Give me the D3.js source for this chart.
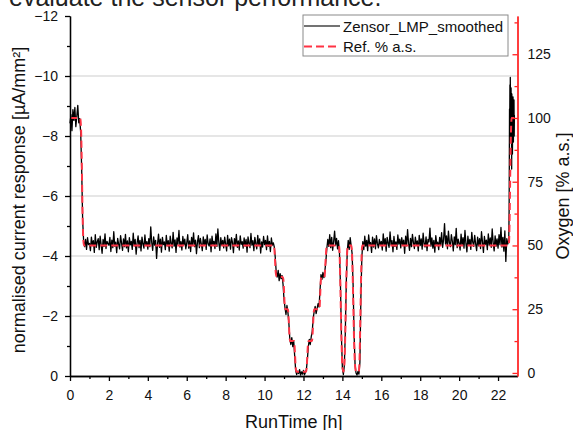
<!DOCTYPE html>
<html>
<head>
<title>Zensor LMP smoothed vs reference oxygen</title>
<script src="https://d3js.org/d3.v7.min.js"></script>
<style>
body { margin: 0; background: #fff; }
text { font-family: "Liberation Sans", Arial, sans-serif; }
</style>
</head>
<body>
<div id="chart"></div>
<script>
// sensor current, one sample every 0.05 h from 0 h to 22.55 h
var stepHours = 0.05;
var currentValues = [
  -8.42,-8.71,-8.18,-8.88,-8.52,-8.95,-8.31,-8.66,-9.02,-8.44,-8.58,-8.10,-6.90,-5.20,-4.50,-4.31,-4.55,-4.22,-4.61,-4.38,
  -4.42,-4.18,-4.63,-4.35,-4.51,-4.12,-4.71,-4.29,-4.47,-4.58,-4.21,-4.66,-4.38,-4.09,-4.55,-4.32,-4.74,-4.25,-4.49,-4.41,
  -4.36,-4.62,-4.15,-4.53,-4.28,-4.81,-4.33,-4.46,-4.11,-4.59,-4.39,-4.24,-4.68,-4.43,-4.19,-4.57,-4.31,-4.72,-4.27,-4.50,
  -4.14,-4.61,-4.37,-4.49,-4.22,-4.76,-4.34,-4.55,-4.06,-4.44,-4.67,-4.28,-4.52,-4.17,-4.63,-4.40,-4.26,-4.70,-4.35,-4.48,
  -4.23,-4.58,-4.31,-4.97,-4.45,-4.19,-4.64,-4.36,-4.52,-3.92,-4.41,-4.73,-4.29,-4.56,-4.13,-4.62,-4.38,-4.47,-4.21,-4.69,
  -4.34,-4.51,-4.16,-4.66,-4.42,-4.27,-4.79,-4.33,-4.54,-4.12,-4.60,-4.39,-4.85,-4.30,-4.48,-4.20,-4.65,-4.37,-4.56,-4.24,
  -4.43,-4.71,-4.26,-4.50,-4.15,-4.62,-4.35,-4.77,-4.31,-4.53,-4.08,-4.46,-4.68,-4.28,-4.59,-4.40,-4.18,-4.64,-4.37,-4.55,
  -4.22,-4.70,-4.41,-4.33,-4.57,-4.14,-4.66,-4.38,-4.49,-4.25,-4.74,-4.32,-4.90,-4.44,-4.19,-4.61,-4.36,-4.52,-4.27,-4.63,
  -4.40,-4.17,-4.69,-4.34,-4.56,-4.23,-4.61,-4.45,-4.11,-4.58,-4.37,-4.72,-4.29,-4.50,-4.20,-4.67,-4.39,-4.48,-4.26,-4.60,
  -4.33,-4.55,-4.13,-4.64,-4.42,-4.28,-4.75,-4.36,-4.51,-4.18,-4.62,-4.41,-4.24,-4.69,-4.35,-4.57,-4.10,-4.47,-4.30,-4.65,
  -4.38,-4.52,-4.21,-4.67,-4.32,-4.49,-4.15,-4.60,-4.36,-4.44,-4.30,-3.95,-3.45,-3.30,-3.52,-3.18,-3.41,-3.25,-3.35,-3.05,
  -2.55,-2.28,-2.05,-2.35,-2.12,-1.75,-1.22,-1.05,-1.28,-0.98,-1.15,-0.65,-0.18,-0.05,-0.16,-0.08,-0.21,-0.03,-0.14,-0.06,
  -0.19,-0.04,-0.12,-0.22,-0.55,-0.98,-1.22,-1.05,-1.31,-1.48,-1.92,-2.15,-2.32,-2.08,-2.25,-2.41,-2.30,-2.85,-3.38,-3.22,
  -3.45,-3.28,-3.50,-3.82,-4.25,-4.55,-4.32,-4.71,-4.28,-4.62,-4.19,-4.48,-4.83,-4.36,-4.59,-4.24,-4.51,-4.10,-3.05,-1.35,
  -0.25,-0.05,-0.35,-1.45,-3.10,-4.15,-4.52,-4.22,-4.61,-4.35,-4.08,-3.05,-1.40,-0.40,-0.10,-0.03,-0.15,-0.06,-0.45,-2.60,
  -3.95,-4.48,-4.21,-4.66,-4.33,-4.52,-4.18,-4.70,-4.39,-4.45,-4.12,-4.63,-4.30,-4.57,-4.24,-4.68,-4.41,-4.27,-4.55,-4.36,
  -4.49,-4.20,-4.74,-4.35,-4.58,-4.16,-4.62,-4.43,-4.29,-4.80,-4.38,-4.51,-4.14,-4.65,-4.32,-4.47,-4.22,-4.70,-4.40,-4.56,
  -4.27,-4.61,-4.37,-4.53,-4.09,-4.66,-4.34,-4.88,-4.42,-4.19,-4.59,-4.31,-4.72,-4.45,-4.25,-4.63,-4.38,-4.50,-4.17,-4.69,
  -4.35,-4.57,-4.23,-4.76,-4.41,-4.30,-4.64,-4.18,-4.55,-4.47,-4.93,-4.33,-4.60,-4.26,-4.52,-4.13,-4.68,-4.39,-4.46,-4.21,
  -4.62,-4.36,-4.78,-4.29,-4.54,-5.08,-4.40,-4.67,-4.24,-4.83,-4.45,-4.31,-4.71,-4.50,-4.17,-4.64,-4.38,-4.92,-4.28,-4.56,
  -4.43,-4.20,-4.73,-4.35,-4.61,-4.26,-4.85,-4.41,-4.14,-4.66,-4.37,-4.55,-4.22,-4.79,-4.46,-4.32,-4.69,-4.40,-4.18,-4.63,
  -4.34,-4.58,-4.25,-4.81,-4.47,-4.12,-4.65,-4.39,-4.53,-4.21,-4.74,-4.36,-4.60,-4.29,-4.90,-4.44,-4.17,-4.67,-4.33,-4.57,
  -4.26,-4.71,-4.38,-4.95,-4.30,-4.62,-4.16,-4.84,-3.82,-4.58,-4.40,-4.52
];

// last burst back to 100 % (denser samples)
var burstTimes = [22.57,22.58,22.59,22.60,22.61,22.62,22.63,22.64,22.65,22.66,22.67,22.68,22.69,
  22.70,22.71,22.72,22.73,22.74,22.75,22.76,22.77,22.78,22.79,22.80,22.81,22.82,22.83,22.84];
var burstValues = [-5.6,-7.1,-8.9,-8.2,-9.7,-8.0,-9.95,-8.4,-9.3,-7.9,-9.6,-8.3,-9.1,
  -6.9,-9.4,-8.1,-9.0,-7.4,-8.8,-8.2,-9.3,-8.6,-7.8,-8.9,-8.3,-9.2,-8.0,-8.7];

// reference oxygen saturation [% a.s.]
var refTimes = [0,0.52,0.56,0.60,0.64,0.68,0.72,10.48,10.52,10.56,10.60,10.95,10.99,11.03,11.07,
  11.20,11.24,11.28,11.32,11.52,11.56,11.60,11.64,12.14,12.18,12.22,12.26,12.44,12.48,12.53,12.56,
  12.82,12.86,12.90,12.93,13.08,13.12,13.18,13.22,13.82,13.86,13.90,13.95,14.00,14.05,14.10,14.15,
  14.20,14.25,14.29,14.46,14.50,14.55,14.60,14.65,14.70,14.84,14.88,14.93,14.98,15.02,22.55,22.59,
  22.63,22.67,22.70,22.84];
var refOxygen = [100,100,97,85,65,53,50,50,47,41,38,37.5,34,27,25,
  25,21,14.5,12.5,12.5,8,2,0.5,0.5,4,10,12.5,12.5,17,24,25,
  25,31,37,37.5,37.5,42,49,50,50,46,33,14,3,0.5,3,16,
  36,48,50,50,46,31,13,3,0.5,0.5,5,24,44,50,50,58,
  80,96,100,100];

var xTicks = [0,2,4,6,8,10,12,14,16,18,20,22];
var xMinorTicks = [1,3,5,7,9,11,13,15,17,19,21];
var leftTicks = [0,-2,-4,-6,-8,-10,-12];
var leftMinorTicks = [-1,-3,-5,-7,-9,-11];
var gridValues = [-2,-4,-6,-8,-10];
var rightTicks = [0,25,50,75,100,125];
var rightMinorTicks = [12.5,37.5,62.5,87.5,112.5,137.5];

var W = 573, H = 430;
var plotL = 70, plotR = 517.5, plotT = 16, plotB = 376;
var redAxis = "#f22", redLine = "#ff3344";

var svg = d3.select("#chart").append("svg")
  .attr("width", W).attr("height", H);

var x = d3.scaleLinear().domain([0, 23]).range([plotL, plotR]);
var yLeft = d3.scaleLinear().domain([0, -12]).range([plotB, plotT]);
var yRight = d3.scaleLinear().domain([-1.2, 140]).range([plotB, plotT]);

// cut-off caption line above the figure
svg.append("text")
  .attr("x", 9).attr("y", 5.5)
  .attr("font-size", 25).attr("fill", "#222")
  .text("evaluate the sensor performance.");

// grid
svg.selectAll(".grid")
  .data(gridValues)
  .enter()
  .append("line")
  .attr("class", "grid")
  .attr("x1", plotL).attr("x2", plotR)
  .attr("y1", function(d) { return yLeft(d); })
  .attr("y2", function(d) { return yLeft(d); })
  .attr("stroke", "#dedede").attr("stroke-width", 1.5);

// data
var currentData = currentValues.map(function(v, i) { return [i * stepHours, v]; });
burstTimes.forEach(function(t, i) { currentData.push([t, burstValues[i]]); });

var currentLine = d3.line()
  .x(function(d) { return x(d[0]); })
  .y(function(d) { return yLeft(d[1]); });

svg.append("path")
  .datum(currentData)
  .attr("d", currentLine)
  .attr("fill", "none")
  .attr("stroke", "#000")
  .attr("stroke-width", 1.3)
  .attr("stroke-linejoin", "round");

var refLine = d3.line()
  .curve(d3.curveMonotoneX)
  .x(function(d, i) { return x(refTimes[i]); })
  .y(function(d) { return yRight(d); });

svg.append("path")
  .datum(refOxygen)
  .attr("d", refLine)
  .attr("fill", "none")
  .attr("stroke", redLine)
  .attr("stroke-width", 2)
  .attr("stroke-dasharray", "7,4");

// axes
function styleAxis(g, color) {
  g.selectAll("path, line").attr("stroke", color).attr("stroke-width", 1.3);
  g.selectAll("text").attr("fill", "#111").attr("font-size", 14)
    .attr("font-family", "'Liberation Sans', Arial, sans-serif");
}

var gLeft = svg.append("g").attr("transform", "translate(" + plotL + ",0)")
  .call(d3.axisLeft(yLeft).tickValues(leftTicks).tickSize(5).tickSizeOuter(0).tickPadding(7));
styleAxis(gLeft, "#000");
var gLeftMinor = svg.append("g").attr("transform", "translate(" + plotL + ",0)")
  .call(d3.axisLeft(yLeft).tickValues(leftMinorTicks).tickSize(3).tickSizeOuter(0).tickFormat(""));
styleAxis(gLeftMinor, "#000");

var gBottom = svg.append("g").attr("transform", "translate(0," + plotB + ")")
  .call(d3.axisBottom(x).tickValues(xTicks).tickSize(5).tickSizeOuter(0).tickPadding(9));
styleAxis(gBottom, "#000");
var gBottomMinor = svg.append("g").attr("transform", "translate(0," + plotB + ")")
  .call(d3.axisBottom(x).tickValues(xMinorTicks).tickSize(3).tickSizeOuter(0).tickFormat(""));
styleAxis(gBottomMinor, "#000");

var gRight = svg.append("g").attr("transform", "translate(" + plotR + ",0)")
  .call(d3.axisRight(yRight).tickValues(rightTicks).tickSize(-5).tickSizeOuter(0).tickPadding(10));
styleAxis(gRight, redAxis);
var gRightMinor = svg.append("g").attr("transform", "translate(" + plotR + ",0)")
  .call(d3.axisRight(yRight).tickValues(rightMinorTicks).tickSize(-3).tickSizeOuter(0).tickFormat(""));
styleAxis(gRightMinor, redAxis);

// axis titles
svg.append("text")
  .attr("transform", "translate(19," + ((plotT + plotB) / 2 + 4) + ") rotate(-90)")
  .attr("text-anchor", "middle").attr("dominant-baseline", "central")
  .attr("font-size", 18).attr("fill", "#111")
  .text("normalised current response [µA/mm²]");

svg.append("text")
  .attr("transform", "translate(563," + ((plotT + plotB) / 2) + ") rotate(-90)")
  .attr("text-anchor", "middle").attr("dominant-baseline", "central")
  .attr("font-size", 18).attr("fill", "#111")
  .text("Oxygen [% a.s.]");

svg.append("text")
  .attr("x", (plotL + plotR) / 2).attr("y", 428)
  .attr("text-anchor", "middle")
  .attr("font-size", 18).attr("fill", "#111")
  .text("RunTime [h]");

// legend
var legend = svg.append("g");
legend.append("rect")
  .attr("x", 303).attr("y", 15).attr("width", 205).attr("height", 41)
  .attr("fill", "#fff").attr("stroke", "#8a8a8a").attr("stroke-width", 1);
legend.append("line")
  .attr("x1", 304).attr("x2", 340).attr("y1", 26).attr("y2", 26)
  .attr("stroke", "#444").attr("stroke-width", 1.5);
legend.append("text")
  .attr("x", 343).attr("y", 31.5).attr("font-size", 15).attr("fill", "#111")
  .text("Zensor_LMP_smoothed");
legend.append("line")
  .attr("x1", 304).attr("x2", 340).attr("y1", 46.5).attr("y2", 46.5)
  .attr("stroke", redLine).attr("stroke-width", 2).attr("stroke-dasharray", "8,4");
legend.append("text")
  .attr("x", 343).attr("y", 51.5).attr("font-size", 15).attr("fill", "#111")
  .text("Ref. % a.s.");
</script>
</body>
</html>
